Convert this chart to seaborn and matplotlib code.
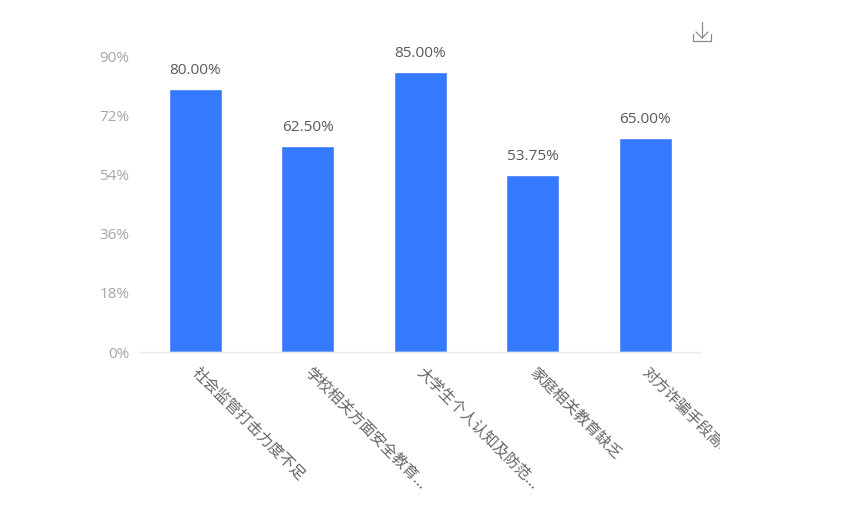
import matplotlib
matplotlib.use("Agg")
import matplotlib.pyplot as plt
import matplotlib.patches as mpatches
from matplotlib.lines import Line2D
import pandas as pd
import seaborn as sns

categories = ["社会监管打击力度不足", "学校相关方面安全教育...", "大学生个人认知及防范...", "家庭相关教育缺乏", "对方诈骗手段高明"]
values = [80.00, 62.50, 85.00, 53.75, 65.00]
value_labels = ["80.00%", "62.50%", "85.00%", "53.75%", "65.00%"]
y_ticks = [0, 18, 36, 54, 72, 90]
y_tick_labels = ["0%", "18%", "36%", "54%", "72%", "90%"]

sns.set_theme(style="white")
plt.rcParams["font.family"] = ["Noto Sans CJK SC", "DejaVu Sans"]

W, H = 845, 516
fig = plt.figure(figsize=(W / 100, H / 100), dpi=100, facecolor="white")
ax = fig.add_axes([139 / W, 1 - 352 / H, 562.5 / W, 296 / H])

df = pd.DataFrame({"category": categories, "value": values})
sns.barplot(data=df, x="category", y="value", color="#3579FF", saturation=1,
            width=0.47, ax=ax)

ax.set_xlim(-0.5, 4.5)
ax.set_ylim(0, 90)
ax.set_xlabel("")
ax.set_ylabel("")
ax.set_yticks(y_ticks)
ax.set_yticklabels(y_tick_labels, color="#A6A6A6", fontsize=11,
                   fontfamily=["Open Sans", "DejaVu Sans"], va="center_baseline")
ax.tick_params(axis="y", length=0, pad=7)
ax.tick_params(axis="x", length=0)
ax.set_xticks(range(len(categories)))
ax.set_xticklabels([])

for s in ["top", "right", "left"]:
    ax.spines[s].set_visible(False)
ax.spines["bottom"].set_color("#EBEBEB")
ax.spines["bottom"].set_linewidth(1)

clip = mpatches.Rectangle((0, 0), 720, H, transform=None)
for i, (cat, val, lab) in enumerate(zip(categories, values, value_labels)):
    ax.annotate(lab, (i, val), xytext=(0, 8), textcoords="offset points",
                ha="center", va="bottom", fontsize=11.1, color="#595959",
                fontfamily=["Open Sans", "DejaVu Sans"])
    t = ax.annotate(cat, (i, 0), xytext=(-0.5, -13), textcoords="offset points",
                    ha="left", va="center", rotation=-45, rotation_mode="anchor",
                    fontsize=11, color="#666666", annotation_clip=False)
    t.set_clip_on(True)
    t.set_clip_path(clip)

# download icon
icon = [([702, 702], [22, 38]), ([696, 702, 708], [32, 38, 32]),
        ([693, 693, 711, 711], [34, 41, 41, 34])]
for xs, ys in icon:
    fig.add_artist(Line2D([x / W for x in xs], [1 - y / H for y in ys],
                          transform=fig.transFigure, color="#8A8A8A", lw=0.9))

fig.savefig("out.png", dpi=100, facecolor="white")
